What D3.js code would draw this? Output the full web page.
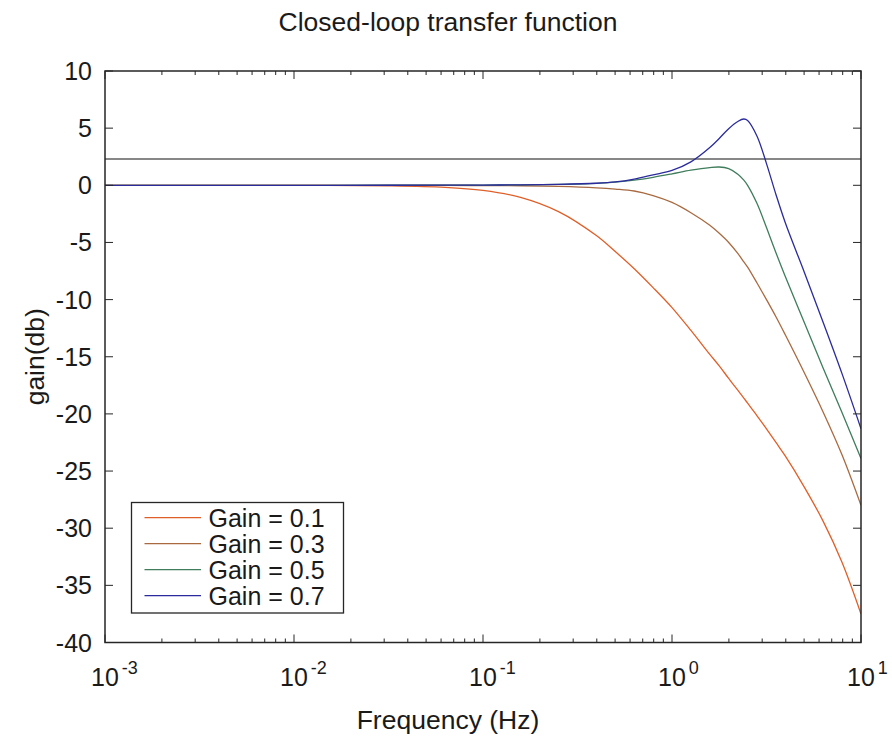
<!DOCTYPE html>
<html>
<head>
<meta charset="utf-8">
<script src="https://cdn.jsdelivr.net/npm/d3@7"></script>
<style>
  html, body { margin: 0; padding: 0; background: #fff; }
  svg { display: block; }
  text { font-family: "Liberation Sans", Arial, Helvetica, sans-serif; fill: #1a1a1a; }
</style>
</head>
<body>
<svg id="chart" width="892" height="740"></svg>
<script>
// ---- data ----
const frequency = [0.001, 0.00316, 0.01, 0.0316, 0.0631, 0.1, 0.158, 0.251, 0.398, 0.501,
  0.631, 0.794, 1, 1.259, 1.585, 1.778, 1.995, 2.239, 2.399, 2.512, 2.818, 3.162, 3.548,
  3.981, 5.012, 6.310, 7.943, 10];
const gain01 = [0, -0.001, -0.005, -0.047, -0.18, -0.45, -1.05, -2.3, -4.4, -5.8,
  -7.3, -8.95, -10.7, -12.7, -14.8, -15.8, -16.9, -17.97, -18.62, -19.05, -20.17, -21.3, -22.5,
  -23.7, -26.4, -29.4, -33.0, -37.5];
const gain03 = [0, 0, 0, -0.002, -0.01, -0.02, -0.04, -0.1, -0.22, -0.33,
  -0.5, -0.9, -1.5, -2.4, -3.5, -4.2, -5.0, -6.0, -6.7, -7.15, -8.55, -10.0, -11.5,
  -13.1, -16.4, -19.85, -23.6, -28.0];
const gain05 = [0, 0, 0, 0.005, 0.01, 0.02, 0.04, 0.08, 0.17, 0.28,
  0.45, 0.7, 1.0, 1.32, 1.55, 1.6, 1.45, 0.95, 0.45, 0.0, -1.6, -3.7, -5.9,
  -8.0, -12.0, -16.0, -19.9, -23.9];
const gain07 = [0, 0, 0, 0.005, 0.01, 0.02, 0.04, 0.08, 0.18, 0.3,
  0.55, 0.92, 1.3, 2.05, 3.3, 4.1, 4.95, 5.6, 5.8, 5.68, 4.3, 1.9, -0.8,
  -3.3, -7.6, -12.0, -16.5, -21.3];
const seriesNames = ["Gain = 0.1", "Gain = 0.3", "Gain = 0.5", "Gain = 0.7"];
const seriesColors = ["#e05f28", "#a96a40", "#3f7d5c", "#2b2b9e"];
const referenceLevel = 2.3;
const yTicks = [10, 5, 0, -5, -10, -15, -20, -25, -30, -35, -40];
const xMajor = [0.001, 0.01, 0.1, 1, 10];
const xExponents = ["-3", "-2", "-1", "0", "1"];

// ---- layout ----
const svg = d3.select("#chart");
const L = 105, R = 861, T = 71, B = 642.5;
const x = d3.scaleLog().domain([0.001, 10]).range([L, R]);
const y = d3.scaleLinear().domain([-40, 10]).range([B, T]);
const axisColor = "#262626";
const bigFont = 26.5, tickFont = 25, legendFont = 25;

// title
svg.append("text").attr("x", 448).attr("y", 31).attr("text-anchor", "middle")
  .attr("font-size", bigFont).text("Closed-loop transfer function");

// clip
svg.append("clipPath").attr("id", "clip").append("rect")
  .attr("x", L).attr("y", T).attr("width", R - L).attr("height", B - T);

const plot = svg.append("g").attr("clip-path", "url(#clip)");

// reference line
plot.append("line").attr("x1", L).attr("x2", R)
  .attr("y1", y(referenceLevel)).attr("y2", y(referenceLevel))
  .attr("stroke", "#111").attr("stroke-width", 1.2);

const series = [gain01, gain03, gain05, gain07];
const line = d3.line()
  .x((d, i) => x(frequency[i]))
  .y(d => y(d))
  .curve(d3.curveCatmullRom.alpha(0.5));

series.forEach((vals, k) => {
  plot.append("path").datum(vals)
    .attr("d", line)
    .attr("fill", "none")
    .attr("stroke", seriesColors[k])
    .attr("stroke-width", 1.3);
});

// ticks
const tickG = svg.append("g").attr("stroke", axisColor).attr("stroke-width", 1);
x.ticks().forEach(v => {
  const major = xMajor.some(m => Math.abs(Math.log10(m) - Math.log10(v)) < 1e-6);
  const len = major ? 8 : 4;
  const px = x(v);
  tickG.append("line").attr("x1", px).attr("x2", px).attr("y1", B).attr("y2", B - len);
  tickG.append("line").attr("x1", px).attr("x2", px).attr("y1", T).attr("y2", T + len);
});
yTicks.forEach(v => {
  const py = y(v);
  tickG.append("line").attr("x1", L).attr("x2", L + 8).attr("y1", py).attr("y2", py);
  tickG.append("line").attr("x1", R).attr("x2", R - 8).attr("y1", py).attr("y2", py);
});

// frame
svg.append("rect").attr("x", L).attr("y", T).attr("width", R - L).attr("height", B - T)
  .attr("fill", "none").attr("stroke", axisColor).attr("stroke-width", 1.5);

// y tick labels
yTicks.forEach(v => {
  svg.append("text").attr("x", 92).attr("y", y(v)).attr("dy", "0.36em")
    .attr("text-anchor", "end").attr("font-size", tickFont).text(v);
});

// x tick labels (10 with superscript exponent)
xMajor.forEach((v, i) => {
  const px = x(v);
  const t = svg.append("text").attr("y", 686).attr("font-size", tickFont);
  t.append("tspan").attr("x", px - 14).text("10");
  t.append("tspan").attr("dx", 3).attr("dy", -12).attr("font-size", 18).text(xExponents[i]);
});

// axis labels
svg.append("text").attr("x", 448).attr("y", 729).attr("text-anchor", "middle")
  .attr("font-size", bigFont).text("Frequency (Hz)");
svg.append("text").attr("transform", `translate(44,${(T + B) / 2}) rotate(-90)`)
  .attr("text-anchor", "middle").attr("font-size", bigFont).text("gain(db)");

// legend
const lg = svg.append("g");
lg.append("rect").attr("x", 131.5).attr("y", 502.5).attr("width", 212).attr("height", 110.5)
  .attr("fill", "#fff").attr("stroke", axisColor).attr("stroke-width", 1.3);
seriesNames.forEach((name, k) => {
  const cy = 517.7 + k * 26;
  lg.append("line").attr("x1", 144.5).attr("x2", 201).attr("y1", cy).attr("y2", cy)
    .attr("stroke", seriesColors[k]).attr("stroke-width", 1.3);
  lg.append("text").attr("x", 208.5).attr("y", cy).attr("dy", "0.36em")
    .attr("font-size", legendFont).text(name);
});
</script>
</body>
</html>
